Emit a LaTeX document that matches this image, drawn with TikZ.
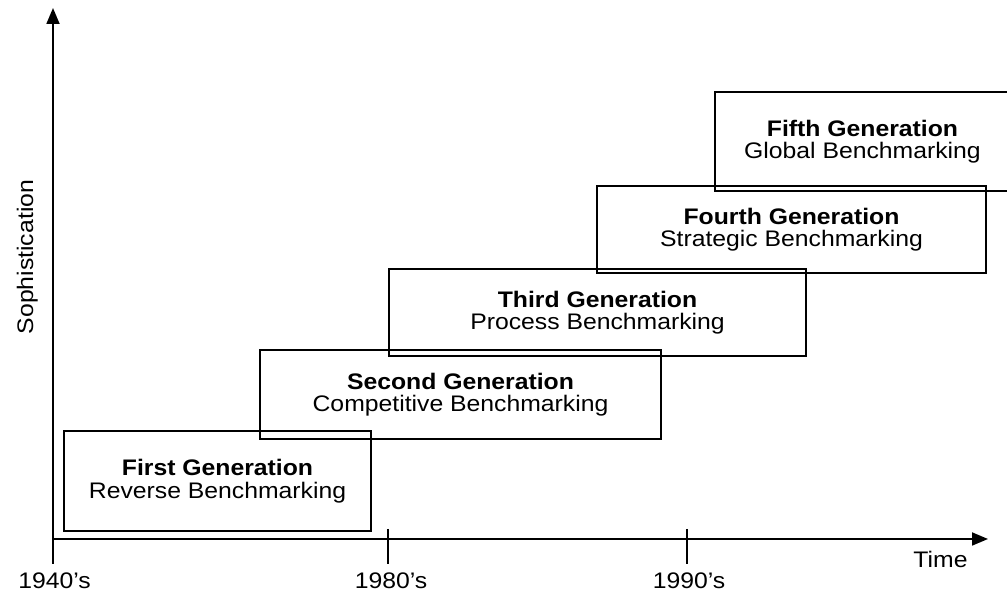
\documentclass[tikz,border=0pt]{standalone}
\usepackage{fontspec}
\setmainfont{Liberation Sans}[FakeStretch=1.1]
\usetikzlibrary{arrows.meta}
\begin{document}
\begin{tikzpicture}[x=1pt,y=1pt,
  genbox/.style={draw, line width=1.4pt, inner sep=0pt, align=center,
    font=\fontsize{22.5}{22.5}\selectfont},
  axisline/.style={line width=1.8pt, -{Triangle[length=16pt,width=13pt]}},
  tickline/.style={line width=1.6pt},
  lbl/.style={font=\fontsize{22.5}{22.5}\selectfont, inner sep=0pt}]
\useasboundingbox (0,0) rectangle (1007,594);
\clip (0,0) rectangle (1007,594);
% axes
\coordinate (O) at (53,55);
\coordinate (xend) at (988,55);
\coordinate (yend) at (53,586);
\coordinate (t40) at (53,30);
\coordinate (t80a) at (388,65);
\coordinate (t80b) at (388,30);
\coordinate (t90a) at (687,65);
\coordinate (t90b) at (687,30);
\draw[axisline] (t40) -- (yend);
\draw[axisline] (O) -- (xend);
\draw[tickline] (t80a) -- (t80b);
\draw[tickline] (t90a) -- (t90b);
% labels
\node[lbl, anchor=base] (l40) at (54.5,5) {1940's};
\node[lbl, anchor=base] (l80) at (391,5) {1980's};
\node[lbl, anchor=base] (l90) at (689,5) {1990's};
\node[lbl, anchor=base] (ltime) at (940.5,26) {Time};
\node[lbl, anchor=base, rotate=90] (lsoph) at (33,337) {Sophistication};
% generation boxes
\node[genbox, minimum width=307pt, minimum height=100pt] (g1) at (217.5,113)
  {\textbf{First Generation}\\Reverse Benchmarking};
\node[genbox, minimum width=401pt, minimum height=89pt] (g2) at (460.5,199.5)
  {\textbf{Second Generation}\\Competitive Benchmarking};
\node[genbox, minimum width=417pt, minimum height=87pt] (g3) at (597.5,281.5)
  {\textbf{Third Generation}\\Process Benchmarking};
\node[genbox, minimum width=389pt, minimum height=87pt] (g4) at (791.5,364.5)
  {\textbf{Fourth Generation}\\Strategic Benchmarking};
\node[genbox, minimum width=295pt, minimum height=99pt] (g5) at (862.5,452.5)
  {\textbf{Fifth Generation}\\Global Benchmarking};
\end{tikzpicture}
\end{document}
